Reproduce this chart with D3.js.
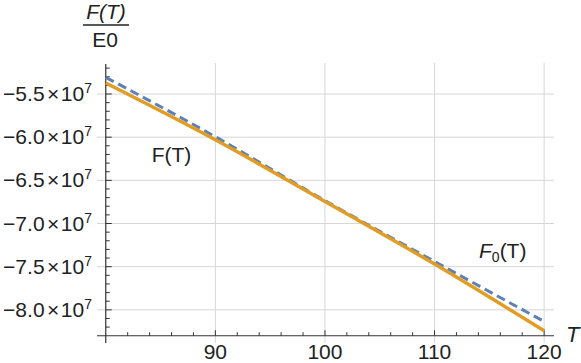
<!DOCTYPE html>
<html>
<head>
<meta charset="utf-8">
<script src="https://cdn.jsdelivr.net/npm/d3@7"></script>
<style>
  body { margin: 0; background: #fff; }
  svg { display: block; font-family: "Liberation Sans", Arial, sans-serif; }
</style>
</head>
<body>
<svg id="chart" width="581" height="363"></svg>
<script>
// temperatures sampled along the curves
var temps = [80, 90, 100, 110, 120];
// F(T)/E0 in units of 1e7 (solid orange)
var fValues = [-5.373, -6.03, -6.745, -7.47, -8.243];
// F0(T)/E0 in units of 1e7 (dashed blue)
var f0Values = [-5.307, -5.995, -6.735, -7.44, -8.135];

var xTicks = [90, 100, 110, 120];
var yTicks = [-5.5, -6.0, -6.5, -7.0, -7.5, -8.0];

var svg = d3.select("#chart");

// plot range incl. padding
var x = d3.scaleLinear().domain([79.2, 120.9]).range([97, 554]);
var y = d3.scaleLinear().domain([-8.384, -5.164]).range([343, 65]);

var x0 = 80, y0 = -8.3; // axes origin

//grid lines
svg.append("g").selectAll("line")
    .data(xTicks).enter().append("line")
    .attr("x1", function(d) { return x(d); })
    .attr("x2", function(d) { return x(d); })
    .attr("y1", 63).attr("y2", 343)
    .attr("stroke", "#d6d6d6").attr("stroke-width", 1);

svg.append("g").selectAll("line")
    .data(yTicks).enter().append("line")
    .attr("x1", 97).attr("x2", 554)
    .attr("y1", function(d) { return y(d); })
    .attr("y2", function(d) { return y(d); })
    .attr("stroke", "#d6d6d6").attr("stroke-width", 1);

//axes lines
var axisColor = "#333";
svg.append("line")
    .attr("x1", 97).attr("x2", 554)
    .attr("y1", y(y0)).attr("y2", y(y0))
    .attr("stroke", axisColor).attr("stroke-width", 1.2);
svg.append("line")
    .attr("x1", x(x0)).attr("x2", x(x0))
    .attr("y1", 64).attr("y2", 343)
    .attr("stroke", axisColor).attr("stroke-width", 1.2);

//x ticks, minor every 2
var xMinor = d3.range(82, 121, 2);
svg.append("g").selectAll("line")
    .data(xMinor).enter().append("line")
    .attr("x1", function(d) { return x(d); })
    .attr("x2", function(d) { return x(d); })
    .attr("y1", y(y0))
    .attr("y2", function(d) { return y(y0) - (d % 10 === 0 ? 5.5 : 3.5); })
    .attr("stroke", axisColor).attr("stroke-width", 1);

//y ticks, minor every 0.1
var yMinor = d3.range(-82, -51, 1).map(function(d) { return d / 10; });
svg.append("g").selectAll("line")
    .data(yMinor).enter().append("line")
    .attr("x1", x(x0))
    .attr("x2", function(d) { return x(x0) + (Math.abs(d * 2 - Math.round(d * 2)) < 1e-6 ? 6 : 4); })
    .attr("y1", function(d) { return y(d); })
    .attr("y2", function(d) { return y(d); })
    .attr("stroke", axisColor).attr("stroke-width", 1);

//x tick labels
svg.append("g").selectAll("text")
    .data(xTicks).enter().append("text")
    .attr("x", function(d) { return x(d); })
    .attr("y", 359)
    .attr("text-anchor", "middle")
    .attr("font-size", 21)
    .attr("fill", "#222")
    .text(function(d) { return d; });

//y tick labels  -5.5 x 10^7
var yl = svg.append("g").selectAll("text")
    .data(yTicks).enter().append("text")
    .attr("x", 92)
    .attr("y", function(d) { return y(d) + 7; })
    .attr("text-anchor", "end")
    .attr("font-size", 21)
    .attr("fill", "#222");
yl.append("tspan").text(function(d) { return "\u2212" + Math.abs(d).toFixed(1); });
yl.append("tspan").attr("dx", 2.5).text("\u00d7");
yl.append("tspan").attr("dx", 1.5).text("10");
yl.append("tspan").attr("dy", -8).attr("font-size", 14).text("7");

//curves
var line = d3.line()
    .x(function(d) { return x(d[0]); })
    .y(function(d) { return y(d[1]); })
    .curve(d3.curveMonotoneX);

svg.append("path")
    .datum(temps.map(function(t, i) { return [t, f0Values[i]]; }))
    .attr("d", line)
    .attr("fill", "none")
    .attr("stroke", "#5e81b5")
    .attr("stroke-width", 3)
    .attr("stroke-dasharray", "9,5");

svg.append("path")
    .datum(temps.map(function(t, i) { return [t, fValues[i]]; }))
    .attr("d", line)
    .attr("fill", "none")
    .attr("stroke", "#e19c24")
    .attr("stroke-width", 3.5);

//curve labels
svg.append("text")
    .attr("x", 171.5).attr("y", 162)
    .attr("text-anchor", "middle")
    .attr("font-size", 21)
    .attr("fill", "#222")
    .text("F(T)");

var f0 = svg.append("text")
    .attr("x", 479).attr("y", 258)
    .attr("font-size", 21)
    .attr("fill", "#222");
f0.append("tspan").attr("font-style", "italic").text("F");
f0.append("tspan").attr("font-size", 14).attr("dy", 4).text("0");
f0.append("tspan").attr("dy", -4).text("(T)");

//axis labels
svg.append("text")
    .attr("x", 106).attr("y", 19)
    .attr("text-anchor", "middle")
    .attr("font-size", 21)
    .attr("font-style", "italic")
    .attr("fill", "#222")
    .text("F(T)");
svg.append("line")
    .attr("x1", 83).attr("x2", 129)
    .attr("y1", 25).attr("y2", 25)
    .attr("stroke", "#222").attr("stroke-width", 1.5);
svg.append("text")
    .attr("x", 105).attr("y", 47)
    .attr("text-anchor", "middle")
    .attr("font-size", 21)
    .attr("fill", "#222")
    .text("E0");

svg.append("text")
    .attr("x", 566).attr("y", 342)
    .attr("font-size", 22)
    .attr("font-style", "italic")
    .attr("fill", "#222")
    .text("T");
</script>
</body>
</html>
